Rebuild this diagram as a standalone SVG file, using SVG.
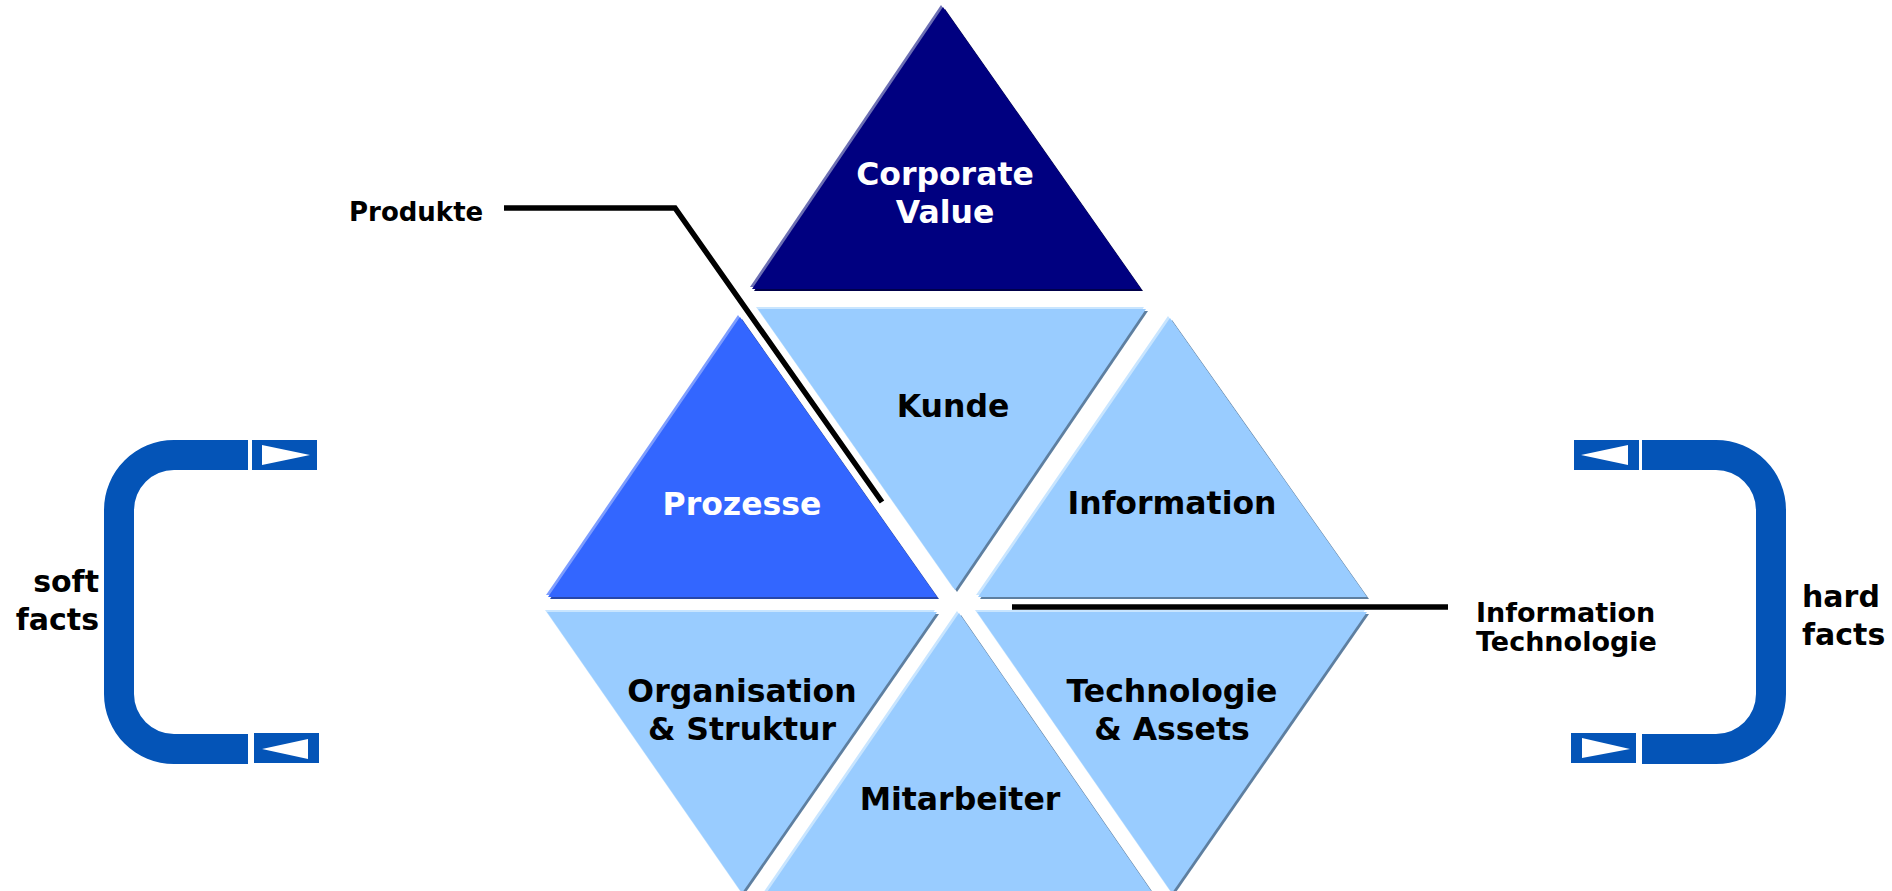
<svg xmlns="http://www.w3.org/2000/svg" width="1892" height="891" viewBox="0 0 1892 891">
<style>
.lb{fill:#99CCFF}.lb-h{fill:#C8E5FF}.lb-s{fill:#5E7FA0}
.pz{fill:#3366FF}.pz-h{fill:#7D9DFF}.pz-s{fill:#2747AA}
.nv{fill:#000080}.nv-h{fill:#6C6FB4}.nv-s{fill:#00004A}
.t{font-family:"DejaVu Sans",Verdana,sans-serif;font-weight:bold;font-size:31.5px;text-anchor:middle}
.dk{fill:#000}.wt{fill:#fff}
.side{font-family:"DejaVu Sans",Verdana,sans-serif;font-weight:bold;font-size:30px;fill:#000}
.lbl{font-family:"DejaVu Sans",Verdana,sans-serif;font-weight:bold;fill:#000}
.lead{fill:none;stroke:#000;stroke-width:5.5;stroke-linejoin:miter}
.br{fill:#0454B7}
.arr{fill:#fff}
</style>
<g id="corporate-value">
<polygon class="nv-s" points="945,9 754,291 1143,291"/>
<polygon class="nv-h" points="941,5 750,287 1139,287"/>
<polygon class="nv" points="943,7 752,289 1141,289"/>
<text class="t wt" x="945" y="185">Corporate</text>
<text class="t wt" x="945" y="223">Value</text>
</g>
<g id="kunde">
<polygon class="lb-s" points="760,311 1148,311 957,592"/>
<polygon class="lb-h" points="756,307 1144,307 953,588"/>
<polygon class="lb" points="758,309 1146,309 955,590"/>
<text class="t dk" x="953" y="417">Kunde</text>
</g>
<g id="prozesse">
<polygon class="pz-s" points="742,319 550,599 939,599"/>
<polygon class="pz-h" points="738,315 546,595 935,595"/>
<polygon class="pz" points="740,317 548,597 937,597"/>
<text class="t wt" x="742" y="515">Prozesse</text>
</g>
<g id="information">
<polygon class="lb-s" points="1172,320 980,599 1369,599"/>
<polygon class="lb-h" points="1168,316 976,595 1365,595"/>
<polygon class="lb" points="1170,318 978,597 1367,597"/>
<text class="t dk" x="1172" y="514">Information</text>
</g>
<g id="organisation">
<polygon class="lb-s" points="549,614 939,614 744,895"/>
<polygon class="lb-h" points="545,610 935,610 740,891"/>
<polygon class="lb" points="547,612 937,612 742,893"/>
<text class="t dk" x="742" y="702">Organisation</text>
<text class="t dk" x="742" y="740">&amp; Struktur</text>
</g>
<g id="technologie">
<polygon class="lb-s" points="979,614 1369,614 1174,895"/>
<polygon class="lb-h" points="975,610 1365,610 1170,891"/>
<polygon class="lb" points="977,612 1367,612 1172,893"/>
<text class="t dk" x="1172" y="702">Technologie</text>
<text class="t dk" x="1172" y="740">&amp; Assets</text>
</g>
<g id="mitarbeiter">
<polygon class="lb-s" points="961,615 767,897 1156,897"/>
<polygon class="lb-h" points="957,611 763,893 1152,893"/>
<polygon class="lb" points="959,613 765,895 1154,895"/>
<text class="t dk" x="960" y="810">Mitarbeiter</text>
</g>
<g id="connectors">
<polyline class="lead" points="504,208 675,208 882,502"/>
<line class="lead" x1="1012" y1="607" x2="1448" y2="607"/>
</g>
<g id="produkte-label">
<text class="lbl" x="349" y="221" font-size="26">Produkte</text>
</g>
<g id="it-label">
<text class="lbl" x="1476" y="622" font-size="27">Information</text>
<text class="lbl" x="1476" y="651" font-size="27">Technologie</text>
</g>
<g id="soft-facts">
<path class="br" d="M248,440 H174 A70,70 0 0 0 104,510 V694 A70,70 0 0 0 174,764 H248 V734 H174 A40,40 0 0 1 134,694 V510 A40,40 0 0 1 174,470 H248 Z"/>
<rect class="br" x="252" y="440" width="65" height="30"/>
<polygon class="arr" points="262,445 310,455 262,465"/>
<rect class="br" x="254" y="733" width="65" height="30"/>
<polygon class="arr" points="308,739 262,749 308,759"/>
<text class="side" x="99" y="592" text-anchor="end">soft</text>
<text class="side" x="99" y="630" text-anchor="end">facts</text>
</g>
<g id="hard-facts">
<path class="br" d="M1642,440 H1716 A70,70 0 0 1 1786,510 V694 A70,70 0 0 1 1716,764 H1642 V734 H1716 A40,40 0 0 0 1756,694 V510 A40,40 0 0 0 1716,470 H1642 Z"/>
<rect class="br" x="1574" y="440" width="65" height="30"/>
<polygon class="arr" points="1628,445 1581,455 1628,465"/>
<rect class="br" x="1571" y="733" width="65" height="30"/>
<polygon class="arr" points="1582,738 1630,749 1582,758"/>
<text class="side" x="1802" y="607">hard</text>
<text class="side" x="1802" y="645">facts</text>
</g>
</svg>
